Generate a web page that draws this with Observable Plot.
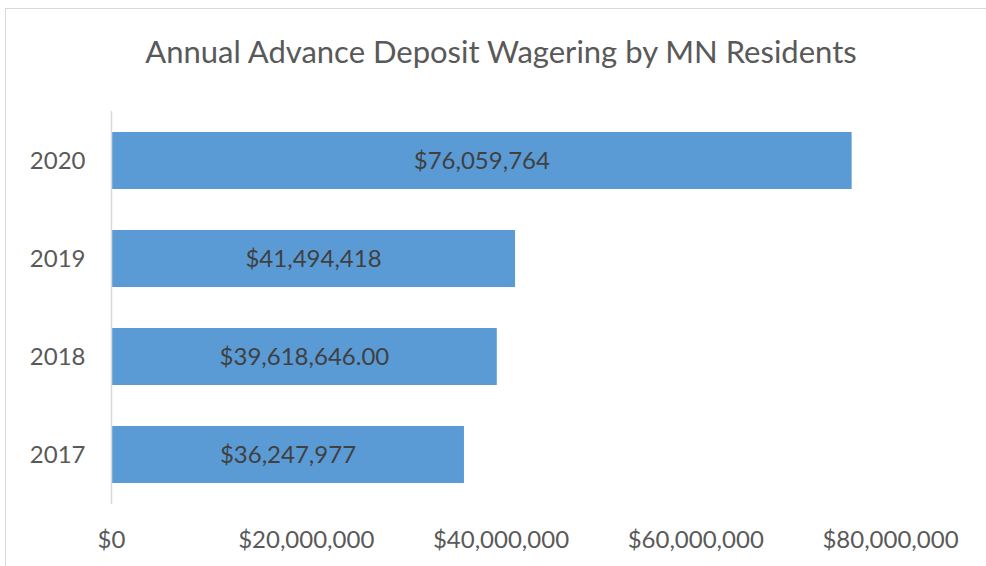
<!DOCTYPE html>
<html>
<head>
<meta charset="utf-8">
<script src="https://cdn.jsdelivr.net/npm/d3@7"></script>
<script src="https://cdn.jsdelivr.net/npm/@observablehq/plot@0.6"></script>
<style>
  html, body { margin: 0; padding: 0; background: #fff; overflow: hidden; width: 986px; height: 566px; }
  #frame { position: absolute; left: 5px; top: 8px; width: 1100px; height: 700px; border: 1.5px solid #d9d9d9; box-sizing: border-box; }
  #title { position: absolute; left: 0; top: 31px; width: 1002px; text-align: center; font-family: Lato, sans-serif; font-size: 31px; color: #595959; line-height: 40px; }
  #chart { position: absolute; left: 0; top: 0; }
</style>
</head>
<body>
<div id="frame"></div>
<div id="title">Annual Advance Deposit Wagering by MN Residents</div>
<div id="chart"></div>
<script>
const years = ["2020", "2019", "2018", "2017"];
const values = [76059764, 41494418, 39618646, 36247977];
const barLabels = ["$76,059,764", "$41,494,418", "$39,618,646.00", "$36,247,977"];
const xTicks = [0, 20000000, 40000000, 60000000, 80000000];

const data = years.map((y, i) => ({year: y, value: values[i], label: barLabels[i]}));
const fmt = d => "$" + d3.format(",")(d);

const chart = Plot.plot({
  width: 986,
  height: 566,
  marginLeft: 111,
  marginRight: 96,
  marginTop: 111,
  marginBottom: 62,
  style: {fontFamily: "Lato, sans-serif", fontSize: "24px", color: "#595959", background: "transparent"},
  x: {domain: [0, 80000000], label: null},
  y: {domain: years, paddingInner: 0.42, paddingOuter: 0.21, label: null},
  marks: [
    Plot.barX(data, {x: "value", y: "year", fill: "#5B9BD5"}),
    Plot.ruleX([0], {stroke: "#d9d9d9", strokeWidth: 1.5}),
    Plot.text(data, {x: d => d.value / 2, y: "year", text: "label", fill: "#404040", fontSize: 24}),
    Plot.axisX({ticks: xTicks, tickFormat: fmt, tickSize: 0, tickPadding: 26, label: null, fill: "#595959"}),
    Plot.axisY({tickSize: 0, tickPadding: 26, label: null, fill: "#595959"})
  ]
});
document.getElementById("chart").appendChild(chart);
</script>
</body>
</html>
